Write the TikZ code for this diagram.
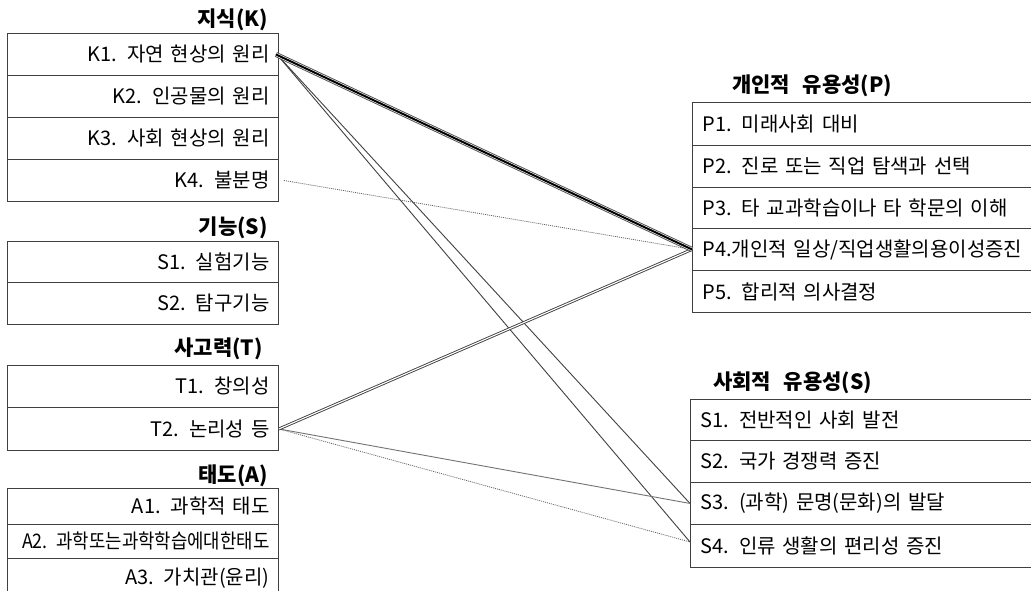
\documentclass[tikz,border=0pt]{standalone}
\usepackage{fontspec}
\usepackage{graphicx}
\setmainfont{Noto Sans CJK KR}
\begin{document}
\begin{tikzpicture}[x=1pt,y=-1pt,
  every node/.style={font=\fontsize{20}{22}\selectfont},
  lrow/.style={draw=black!75, line width=0.9pt, minimum width=271pt, minimum height=42pt, text width=253pt, align=right, inner xsep=9pt, inner ysep=0pt, anchor=north west},
  rrow/.style={draw=black!75, line width=0.9pt, minimum width=350pt, minimum height=42pt, text width=330pt, align=left, inner xsep=10pt, inner ysep=0pt, anchor=north west},
  ttl/.style={font=\fontsize{21}{23}\selectfont\bfseries, inner sep=0pt},
  triple/.style={line width=5pt, draw=black!70, postaction={draw=white, line width=3.2pt}, postaction={draw=black, line width=2pt}},
  dbl/.style={draw=black!75, double=white, line width=0.9pt, double distance=1.1pt},
  thin/.style={draw=black!75, line width=0.9pt},
  thing/.style={draw=black!55, line width=0.9pt},
  dots/.style={draw=black!60, line width=0.8pt, dash pattern=on 1pt off 1pt}
]
\useasboundingbox (0,0) rectangle (1031,591);
\begin{scope}
\clip (0,0) rectangle (1031,591);
% Left: knowledge
\node[ttl, anchor=east] (tk) at (268,20) {지식(K)};
\node[lrow] (k1) at (7,33) {K1. 자연 현상의 원리};
\node[lrow] (k2) at (7,75) {K2. 인공물의 원리};
\node[lrow] (k3) at (7,117) {K3. 사회 현상의 원리};
\node[lrow, minimum height=42pt] (k4) at (7,159) {K4. 불분명};
% skills
\node[ttl, anchor=east] (ts) at (268,228) {기능(S)};
\node[lrow, minimum height=41pt] (s1) at (7,241) {S1. 실험기능};
\node[lrow, minimum height=42pt] (s2) at (7,282) {S2. 탐구기능};
% thinking
\node[ttl, anchor=east] (tt) at (263,349) {사고력(T)};
\node[lrow] (t1) at (7,365) {T1. 창의성};
\node[lrow, minimum height=43pt] (t2) at (7,407) {T2. 논리성 등};
% attitude
\node[ttl, anchor=east] (ta) at (268,476) {태도(A)};
\node[lrow, minimum height=36pt] (a1) at (7,488) {A1. 과학적 태도};
\node[lrow, minimum height=34pt] (a2) at (7,524) {\scalebox{0.89}[1]{A2. 과학또는과학학습에대한태도}};
\node[lrow, minimum height=40pt] (a3) at (7,558) {A3. 가치관(윤리)};
% Right: personal
\node[ttl, anchor=west] (tp) at (732,86) {개인적\hspace{0.6em}유용성(P)};
\node[rrow, minimum height=43pt] (p1) at (692,102) {P1. 미래사회 대비};
\node[rrow] (p2) at (692,145) {P2. 진로 또는 직업 탐색과 선택};
\node[rrow, minimum height=41pt] (p3) at (692,187) {P3. 타 교과학습이나 타 학문의 이해};
\node[rrow] (p4) at (692,228) {P4.개인적 일상/직업생활의용이성증진};
\node[rrow] (p5) at (692,270) {P5. 합리적 의사결정};
% social
\node[ttl, anchor=west] (tso) at (713,383) {사회적\hspace{0.6em}유용성(S)};
\node[rrow, minimum height=41pt] (so1) at (690,399) {S1. 전반적인 사회 발전};
\node[rrow] (so2) at (690,440) {S2. 국가 경쟁력 증진};
\node[rrow] (so3) at (690,482) {S3. (과학) 문명(문화)의 발달};
\node[rrow, minimum height=43pt] (so4) at (690,524) {S4. 인류 생활의 편리성 증진};
\end{scope}
% connectors
\draw[dots] ([xshift=5pt]k4.east) -- (p4.west);
\draw[thin] ([xshift=-2pt]k1.east) -- (so3.west);
\draw[thin] ([xshift=-2pt]k1.east) -- ([yshift=4pt]so4.west);
\draw[thing] (t2.east) -- (so3.west);
\draw[dots] (t2.east) -- ([yshift=4pt]so4.west);
\draw[dbl] (t2.east) -- (p4.west);
\draw[triple] ([xshift=-3pt]k1.east) -- (p4.west);
\end{tikzpicture}
\end{document}
